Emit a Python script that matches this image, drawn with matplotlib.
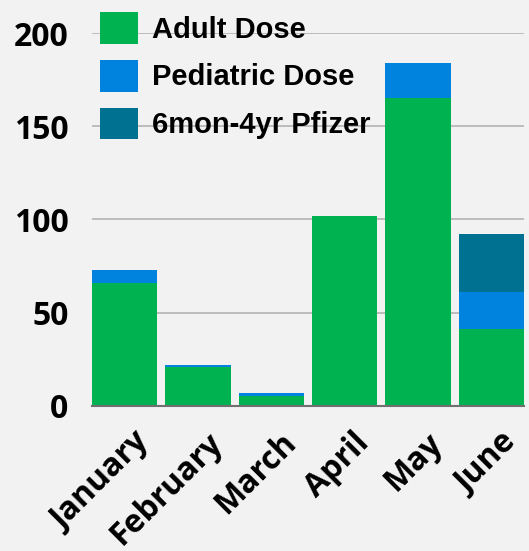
import matplotlib.pyplot as plt
import matplotlib.transforms as mtransforms
import numpy as np

months = ['January', 'February', 'March', 'April', 'May', 'June']
adult = [66, 21, 5, 102, 165, 41]
pediatric = [7, 1, 2, 0, 19, 20]
pfizer_young = [0, 0, 0, 0, 0, 31]
series_names = ['Adult Dose', 'Pediatric Dose', '6mon-4yr Pfizer']
colors = ['#00B250', '#0082DF', '#007190']
bg = '#F2F2F2'

fig = plt.figure(figsize=(5.29, 5.51), dpi=100, facecolor=bg)
ax = fig.add_axes([92 / 529, 1 - 405.7 / 551, 432 / 529, (405.7 - 33) / 551])
ax.set_facecolor(bg)

x = np.arange(len(months))
w = 0.89
bottom = np.zeros(len(months))
handles = []
for vals, name, col in zip([adult, pediatric, pfizer_young], series_names, colors):
    b = ax.bar(x, vals, w, bottom=bottom, color=col, label=name, zorder=3)
    handles.append(b)
    bottom += np.array(vals)

ax.set_xlim(-0.445, 5.445)
ax.set_ylim(0, 200)
ax.set_yticks([0, 50, 100, 150, 200])
ax.yaxis.grid(True, color='#B3B3B3', linewidth=1.2, zorder=0)
ax.set_axisbelow(True)
for s in ['top', 'right', 'left']:
    ax.spines[s].set_visible(False)
ax.spines['bottom'].set_color('#707070')
ax.spines['bottom'].set_linewidth(1.5)
ax.spines['bottom'].set_zorder(4)
ax.tick_params(length=0)
ax.tick_params(axis='y', pad=17)
ax.tick_params(axis='x', pad=12)

ax.set_xticks(x)
ax.set_xticklabels(months, rotation=45, ha='right', rotation_mode='anchor',
                   fontfamily='Open Sans', fontweight='bold', fontsize=23)
shift = mtransforms.ScaledTranslation(8 / 100, -4 / 100, fig.dpi_scale_trans)
for lbl in ax.get_xticklabels():
    lbl.set_transform(lbl.get_transform() + shift)
for lbl in ax.get_yticklabels():
    lbl.set_fontfamily('Open Sans')
    lbl.set_fontweight('bold')
    lbl.set_fontsize(23)

leg = ax.legend(handles=handles, loc='upper left',
                bbox_to_anchor=(100 / 529, 1 - 12 / 551), bbox_transform=fig.transFigure,
                frameon=False, borderpad=0, borderaxespad=0,
                handlelength=1.3, handleheight=1.3, handletextpad=0.48,
                labelspacing=0.55,
                prop={'family': 'Liberation Sans', 'weight': 'bold', 'size': 21})
leg.set_zorder(5)

fig.savefig('out.png', dpi=100, facecolor=bg)
